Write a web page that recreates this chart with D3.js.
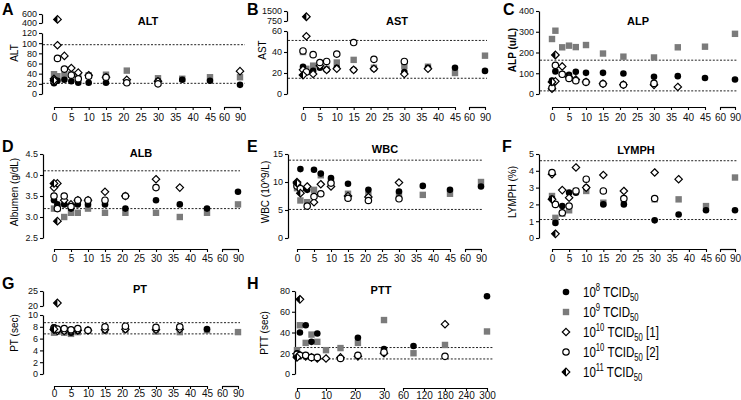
<!DOCTYPE html>
<html>
<head>
<meta charset="utf-8">
<script src="https://cdn.jsdelivr.net/npm/d3@7"></script>
<style>
  body { margin: 0; background: #fff; }
  svg { font-family: "Liberation Sans", Arial, Helvetica, sans-serif; }
</style>
</head>
<body>
<svg id="chart" width="741" height="400"></svg>
<script>
	// sampling days (PTT has its own late time points)
	var days = [0, 1, 3, 5, 7, 10, 15, 21, 30, 37, 45, 90];
	var daysPTT = [0, 1, 3, 5, 7, 10, 15, 21, 30, 90, 180, 300];

	// ALT
	var alt8 = [21, 26, 28, 25, 22, 22, 22, 22, 26, 28, 26, 18];
	var alt9 = [39, 35, 37, 39, 35, 37, 38, 46, 31, 30, 33, 33];
	var alt10a = [30, 96, 75, 51, 42, 37, 33, 28, 25, null, null, 45];
	var alt10b = [25, 70, 49, 37, 30, 35, 33, 22, 20, null, null, null];
	var alt11 = [27, 480];

	// AST
	var ast8 = [26, 21, 22, 25, 23, 25, 23, 24, 21, 25, 25, 22];
	var ast9 = [40, 24, 27, 29, 24, 30, 32.5, 25, 26.5, 26, 20, 36.5];
	var ast10a = [23, 55, 19, 27, 23, 24, 23, 24, 19, 24, null, null];
	var ast10b = [41, 21, 37.5, 30, 31, 38, 49, 33, 31, null, null, null];
	var ast11 = [18, 1070];

	// ALP
	var alp8 = [65, 109, 95, 92, 107, 102, 102, 99, 83, 86, 77, 70];
	var alp9 = [265, 305, 225, 233, 226, 236, 195, 180, 176, 225, 228, 290];
	var alp10a = [25, 61, 133, 81, 70, 58, 50, 45, 44, 34, null, null];
	var alp10b = [30, 138, 95, 75, 64, 57, 49, 44, 51, null, null, null];
	var alp11 = [58, 188];

	// ALB
	var alb8 = [3.4, 3.3, 3.3, 3.2, 3.3, 3.3, 3.3, 3.2, 3.4, 3.3, 3.2, 3.6];
	var alb9 = [3.2, 3.2, 3.0, 3.1, 3.1, 3.2, 3.1, 3.1, 3.1, 3.0, 3.1, 3.3];
	var alb10a = [3.7, 3.8, 3.4, 3.3, 3.4, 3.4, 3.6, 3.5, 3.9, 3.7, null, null];
	var alb10b = [3.5, 3.2, 3.5, 3.25, 3.4, 3.4, 3.4, 3.5, 3.7, null, null, null];
	var alb11 = [3.8, 2.9];

	// WBC
	var wbc8 = [9.5, 12.3, 8.6, 12.2, 11.5, 10.7, 9.7, 8.6, 8.3, 9.3, 8.6, 9.2];
	var wbc9 = [8.9, 6.7, 6.4, 8.6, 11.2, 10.1, 7.9, 7.7, 7.6, 7.7, 7.9, 10.0];
	var wbc10a = [10.0, 8.9, 9.2, 6.4, 9.6, 9.2, 7.5, 7.3, 9.9, null, null, null];
	var wbc10b = [9.3, 8.8, 5.7, 7.4, 7.9, 9.8, 7.1, 6.7, 7.0, null, null, null];
	var wbc11 = [9.8, 8.0];

	// LYMPH
	var lym8 = [2.35, 0.9, 1.9, 2.7, 2.7, 3.0, 2.0, 2.0, 1.05, 1.4, 1.65, 1.65];
	var lym9 = [2.5, 1.2, 1.45, 1.65, 2.8, 2.8, 2.1, 2.3, 2.3, 2.3, 1.9, 3.6];
	var lym10a = [3.8, null, 2.85, 2.4, 4.2, 3.0, 3.75, 2.8, 3.9, 3.5, null, null];
	var lym10b = [3.9, 2.0, 1.5, 1.9, 2.8, 3.5, 2.8, 2.35, 2.35, null, null, null];
	var lym11 = [2.3, 0.25];

	// PT
	var pt8 = [7.9, 7.5, 7.3, 7.0, 7.3, 7.4, 7.4, 7.6, 7.6, 7.9, 7.6, null];
	var pt9 = [7.0, 7.2, 7.0, 6.8, 7.1, 7.3, 7.3, 7.5, 7.2, 7.1, 7.4, 7.1];
	var pt10a = [7.5, 7.3, 7.3, 7.3, 7.4, 7.4, 7.5, 7.6, 7.5, 7.6, null, null];
	var pt10b = [7.8, 7.6, 7.7, 7.5, 7.7, 7.4, 8.0, 8.1, 7.9, 8.0, null, null];
	var pt11 = [7.6, 21];

	// PTT
	var ptt8 = [20, 40, 47, 31, 39, null, null, 35, 24, 27, null, 75];
	var ptt9 = [23, 47, 30, 38, 31, 23, 25, 30, 52, 20, 28, 41];
	var ptt10a = [17, 18, 17, 16, 15, 15, 16, 17, 20, null, 48, null];
	var ptt10b = [19, 18, 18, 16, 16, null, 15, 18, 21, null, 17, null];
	var ptt11 = [16, 72];

	// legend
	var legendExp = ["8", "9", "10", "10", "11"];
	var legendTag = ["", "", " [1]", " [2]", ""];

	var svg = d3.select("#chart");

	var ticks0to45 = [0, 5, 10, 15, 20, 25, 30, 35, 40, 45];

	// pick which piece of a broken axis a value falls on
	function segFor(segs, v) {
		for (var i = 0; i < segs.length; i++) {
			if (v <= segs[i].domain[1]) return segs[i];
		}
		return segs[segs.length - 1];
	}

	// marker shapes, order matches series order 8, 9, 10[1], 10[2], 11
	function drawMarker(g, kind, x, y) {
		if (kind == 0) {
			g.append("circle").attr("cx", x).attr("cy", y).attr("r", 3.3).attr("fill", "#000");
		} else if (kind == 1) {
			g.append("rect").attr("x", x - 3.2).attr("y", y - 3.2)
				.attr("width", 6.4).attr("height", 6.4).attr("fill", "#7b7b7b");
		} else if (kind == 2) {
			g.append("path").attr("transform", "translate(" + x + "," + y + ")")
				.attr("d", "M0,-3.7L3.7,0L0,3.7L-3.7,0Z")
				.attr("fill", "#fff").attr("stroke", "#000").attr("stroke-width", 1.2);
		} else if (kind == 3) {
			g.append("circle").attr("cx", x).attr("cy", y).attr("r", 3.2)
				.attr("fill", "#fff").attr("stroke", "#000").attr("stroke-width", 1.2);
		} else {
			var m = g.append("g").attr("transform", "translate(" + x + "," + y + ")");
			m.append("path").attr("d", "M0,-3.8L3.8,0L0,3.8L-3.8,0Z")
				.attr("fill", "#fff").attr("stroke", "#000").attr("stroke-width", 1.2);
			m.append("path").attr("d", "M0,-3.8L-3.8,0L0,3.8Z").attr("fill", "#000");
		}
	}

	function styleAxis(a, size) {
		a.attr("font-family", null);
		a.select(".domain").attr("stroke", "#000").attr("stroke-width", 1.2);
		a.selectAll(".tick line").attr("stroke", "#000").attr("stroke-width", 1.1);
		a.selectAll(".tick text").attr("fill", "#111").attr("font-size", size);
	}

	function drawPanel(cfg) {
		var g = svg.append("g");

		// scales for each piece of the axes
		cfg.ySegs.forEach(function(s) {
			s.scale = d3.scaleLinear().domain(s.domain).range(s.range);
			var ax = d3.axisLeft(s.scale).tickValues(s.ticks)
				.tickSize(3).tickSizeOuter(0).tickPadding(2)
				.tickFormat(d3.format(s.fmt || "d"));
			var a = g.append("g").attr("transform", "translate(" + cfg.yAxisX + ",0)").call(ax);
			styleAxis(a, "9px");
		});
		cfg.xSegs.forEach(function(s) {
			s.scale = d3.scaleLinear().domain(s.domain).range(s.range);
			var ax = d3.axisBottom(s.scale).tickValues(s.ticks)
				.tickSize(3).tickSizeOuter(0).tickPadding(cfg.xPad)
				.tickFormat(d3.format("d"));
			var a = g.append("g").attr("transform", "translate(0," + cfg.xAxisY + ")").call(ax);
			styleAxis(a, "10px");
		});

		// normal range lines
		cfg.refs.forEach(function(v) {
			var y = segFor(cfg.ySegs, v).scale(v);
			g.append("line")
				.attr("x1", cfg.yAxisX + 1).attr("x2", cfg.refX2)
				.attr("y1", y).attr("y2", y)
				.attr("stroke", "#222").attr("stroke-width", 1)
				.attr("stroke-dasharray", "2,1.6");
		});

		// points: squares first, open symbols on top
		var order = [1, 0, 2, 3, 4];
		order.forEach(function(k) {
			var vals = cfg.series[k];
			vals.forEach(function(v, i) {
				if (v == null) return;
				var d = cfg.days[i];
				var x = segFor(cfg.xSegs, d).scale(d);
				var y = segFor(cfg.ySegs, v).scale(v);
				drawMarker(g, k, x, y);
			});
		});

		// title, panel letter, y label
		g.append("text").attr("x", cfg.title[1]).attr("y", cfg.title[2])
			.attr("text-anchor", "middle").attr("font-weight", "bold")
			.attr("font-size", "11px").text(cfg.title[0]);
		g.append("text").attr("x", cfg.letter[1]).attr("y", cfg.letter[2])
			.attr("font-weight", "bold").attr("font-size", "16px").text(cfg.letter[0]);
		g.append("text")
			.attr("transform", "translate(" + cfg.ylab[1] + "," + cfg.ylab[2] + ") rotate(-90)")
			.attr("text-anchor", "middle").attr("dy", "0.35em")
			.attr("font-size", "10px")
			.attr("font-weight", cfg.ylabBold ? "bold" : "normal")
			.text(cfg.ylab[0]);
	}

	// A
	drawPanel({
		days: days,
		series: [alt8, alt9, alt10a, alt10b, alt11],
		yAxisX: 42, xAxisY: 107, xPad: 4,
		ySegs: [
			{ domain: [0, 120], range: [94, 33], ticks: [0, 20, 40, 60, 80, 100, 120] },
			{ domain: [400, 600], range: [23, 14], ticks: [400, 600] }
		],
		xSegs: [
			{ domain: [0, 45], range: [54, 210], ticks: ticks0to45 },
			{ domain: [60, 90], range: [224, 240], ticks: [60, 90] }
		],
		refs: [97, 21], refX2: 245,
		title: ["ALT", 148, 25], letter: ["A", 2, 15], ylab: ["ALT", 14, 53]
	});

	// B
	drawPanel({
		days: days,
		series: [ast8, ast9, ast10a, ast10b, ast11],
		yAxisX: 287, xAxisY: 107, xPad: 4,
		ySegs: [
			{ domain: [0, 60], range: [94, 31], ticks: [0, 20, 40, 60] },
			{ domain: [750, 1500], range: [21, 11], ticks: [750, 1500] }
		],
		xSegs: [
			{ domain: [0, 45], range: [303, 455], ticks: ticks0to45 },
			{ domain: [60, 90], range: [469, 485], ticks: [60, 90] }
		],
		refs: [51, 15], refX2: 487,
		title: ["AST", 397, 25], letter: ["B", 247, 15], ylab: ["AST", 262, 50]
	});

	// C
	drawPanel({
		days: days,
		series: [alp8, alp9, alp10a, alp10b, alp11],
		yAxisX: 539, xAxisY: 107, xPad: 4,
		ySegs: [
			{ domain: [0, 400], range: [94, 11], ticks: [0, 100, 200, 300, 400] }
		],
		xSegs: [
			{ domain: [0, 45], range: [552, 705], ticks: ticks0to45 },
			{ domain: [60, 90], range: [720, 735], ticks: [60, 90] }
		],
		refs: [163, 15], refX2: 737,
		title: ["ALP", 638, 25], letter: ["C", 503, 15], ylab: ["ALP (u/L)", 512, 50], ylabBold: true
	});

	// D
	drawPanel({
		days: days,
		series: [alb8, alb9, alb10a, alb10b, alb11],
		yAxisX: 43, xAxisY: 249, xPad: 3,
		ySegs: [
			{ domain: [2.5, 4.5], range: [238, 154], ticks: [2.5, 3, 3.5, 4, 4.5], fmt: ".1f" }
		],
		xSegs: [
			{ domain: [0, 45], range: [54, 207], ticks: ticks0to45 },
			{ domain: [60, 90], range: [222, 238], ticks: [60, 90] }
		],
		refs: [4.1, 3.2], refX2: 240,
		title: ["ALB", 141, 157], letter: ["D", 2, 152], ylab: ["Albumen (g/dL)", 14, 192]
	});

	// E
	drawPanel({
		days: days,
		series: [wbc8, wbc9, wbc10a, wbc10b, wbc11],
		yAxisX: 288, xAxisY: 249, xPad: 3,
		ySegs: [
			{ domain: [0, 15], range: [238, 154], ticks: [0, 5, 10, 15] }
		],
		xSegs: [
			{ domain: [0, 45], range: [297, 450], ticks: ticks0to45 },
			{ domain: [60, 90], range: [465, 481], ticks: [60, 90] }
		],
		refs: [13.9, 5.1], refX2: 483,
		title: ["WBC", 385, 153], letter: ["E", 247, 152], ylab: ["WBC (10^9/L)", 265, 192]
	});

	// F
	drawPanel({
		days: days,
		series: [lym8, lym9, lym10a, lym10b, lym11],
		yAxisX: 539, xAxisY: 249, xPad: 3,
		ySegs: [
			{ domain: [0, 5], range: [238, 154], ticks: [0, 1, 2, 3, 4, 5] }
		],
		xSegs: [
			{ domain: [0, 45], range: [552, 706], ticks: ticks0to45 },
			{ domain: [60, 90], range: [720, 735], ticks: [60, 90] }
		],
		refs: [4.6, 1.1], refX2: 737,
		title: ["LYMPH", 636, 154], letter: ["F", 502, 152], ylab: ["LYMPH (%)", 512, 192]
	});

	// G
	drawPanel({
		days: days,
		series: [pt8, pt9, pt10a, pt10b, pt11],
		yAxisX: 43, xAxisY: 386, xPad: 1,
		ySegs: [
			{ domain: [0, 10], range: [374, 315], ticks: [0, 2, 4, 6, 8, 10] },
			{ domain: [20, 25], range: [306, 291], ticks: [20, 25] }
		],
		xSegs: [
			{ domain: [0, 45], range: [54, 207], ticks: ticks0to45 },
			{ domain: [60, 90], range: [222, 238], ticks: [60, 90] }
		],
		refs: [8.7, 6.8], refX2: 240,
		title: ["PT", 140, 293], letter: ["G", 2, 289], ylab: ["PT (sec)", 14, 333]
	});

	// H
	drawPanel({
		days: daysPTT,
		series: [ptt8, ptt9, ptt10a, ptt10b, ptt11],
		yAxisX: 295, xAxisY: 388, xPad: 1,
		ySegs: [
			{ domain: [0, 80], range: [374, 291], ticks: [0, 20, 40, 60, 80] }
		],
		xSegs: [
			{ domain: [0, 30], range: [297, 384], ticks: [0, 10, 20, 30] },
			{ domain: [60, 300], range: [403, 487], ticks: [60, 120, 180, 240, 300] }
		],
		refs: [25.5, 14.5], refX2: 494,
		title: ["PTT", 381, 294], letter: ["H", 247, 289], ylab: ["PTT (sec)", 264, 333]
	});

	// legend (the printed type is narrow, so squeeze it horizontally)
	var legend = svg.append("g").attr("transform", "translate(566,292)");
	legendExp.forEach(function(e, i) {
		var row = legend.append("g").attr("transform", "translate(0," + (i * 20) + ")");
		drawMarker(row, i, 0, 0);
		var t = row.append("text").attr("font-size", "15px")
			.attr("transform", "translate(17,5) scale(0.77,1)");
		t.append("tspan").text("10");
		t.append("tspan").attr("font-size", "10px").attr("dy", -6).text(e);
		t.append("tspan").attr("dy", 6).text(" TCID");
		t.append("tspan").attr("font-size", "10px").attr("dy", 4).text("50");
		if (legendTag[i]) t.append("tspan").attr("dy", -4).text(legendTag[i]);
	});
</script>
</body>
</html>
